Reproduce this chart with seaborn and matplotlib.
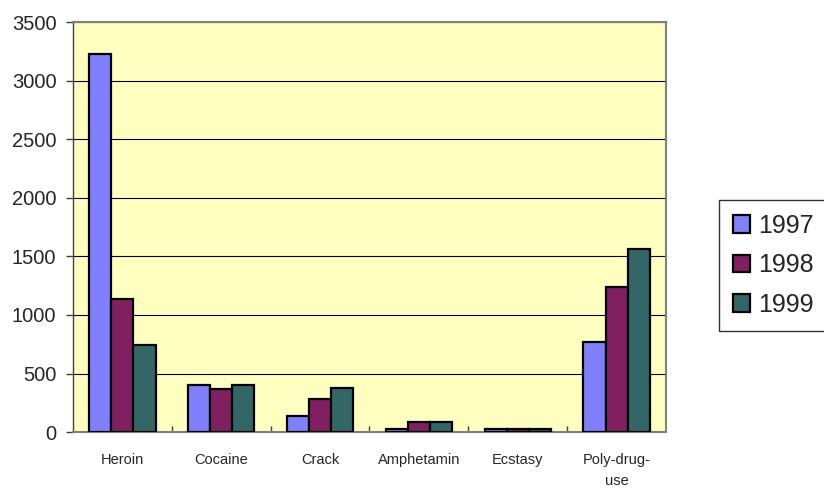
import numpy as np
import pandas as pd
import seaborn as sns
from matplotlib import pyplot as plt

# values
drugs = ["Heroin", "Cocaine", "Crack", "Amphetamin", "Ecstasy", "Poly-drug-\nuse"]
years = ["1997", "1998", "1999"]
v1997 = [3230, 400, 140, 30, 25, 765]
v1998 = [1140, 370, 280, 85, 25, 1240]
v1999 = [740, 400, 380, 90, 25, 1560]
colors = ["#8080FF", "#802060", "#336666"]

rows = []
for year, vals in zip(years, [v1997, v1998, v1999]):
    for d, v in zip(drugs, vals):
        rows.append({"Drug": d, "Year": year, "Count": v})
df = pd.DataFrame(rows)

sns.set_style("white")
plt.rcParams["font.family"] = ["Liberation Sans", "DejaVu Sans"]

fig = plt.figure(figsize=(8.24, 4.91), dpi=100)
ax = fig.add_axes([0.0886, 0.120, 0.7196, 0.835])
ax.set_facecolor("#FFFFC0")

sns.barplot(data=df, x="Drug", y="Count", hue="Year", palette=colors,
            width=0.67, edgecolor="black", linewidth=1.6, saturation=1,
            ax=ax, zorder=3)

ax.set_ylim(0, 3500)
ax.set_xlim(-0.5, 5.5)
ax.set_yticks(range(0, 3501, 500))
ax.yaxis.grid(True, color="black", linewidth=0.8, zorder=0)
ax.set_axisbelow(True)
ax.set_xlabel("")
ax.set_ylabel("")

ax.tick_params(axis="y", labelsize=14.5, direction="out", length=5,
               width=1, color="#404040", left=True, pad=7)
ax.tick_params(axis="x", which="major", length=0, labelsize=10.5, pad=15)
for lab in ax.get_xticklabels():
    lab.set_linespacing(1.6)
ax.set_xticks(np.arange(0.5, 5.5, 1), minor=True)
ax.tick_params(axis="x", which="minor", direction="in", length=4,
               width=1, color="#404040", bottom=True)

for s in ax.spines.values():
    s.set_color("#808080")
    s.set_linewidth(1.5)
    s.set_visible(True)
ax.spines["left"].set_color("#404040")
ax.spines["left"].set_linewidth(1)

ax.get_legend().remove()
handles = [plt.Rectangle((0, 0), 1, 1, facecolor=c, edgecolor="black", linewidth=1.6) for c in colors]
leg = fig.legend(handles, years, loc="upper left", bbox_to_anchor=(719 / 824, 1 - 200 / 491),
                 fontsize=18, frameon=True, fancybox=False, handlelength=0.7,
                 handleheight=0.7, handletextpad=0.3, labelspacing=0.62,
                 borderpad=0.55, borderaxespad=0)
leg.get_frame().set_edgecolor("black")
leg.get_frame().set_linewidth(1)

fig.savefig("out.png", dpi=100)
